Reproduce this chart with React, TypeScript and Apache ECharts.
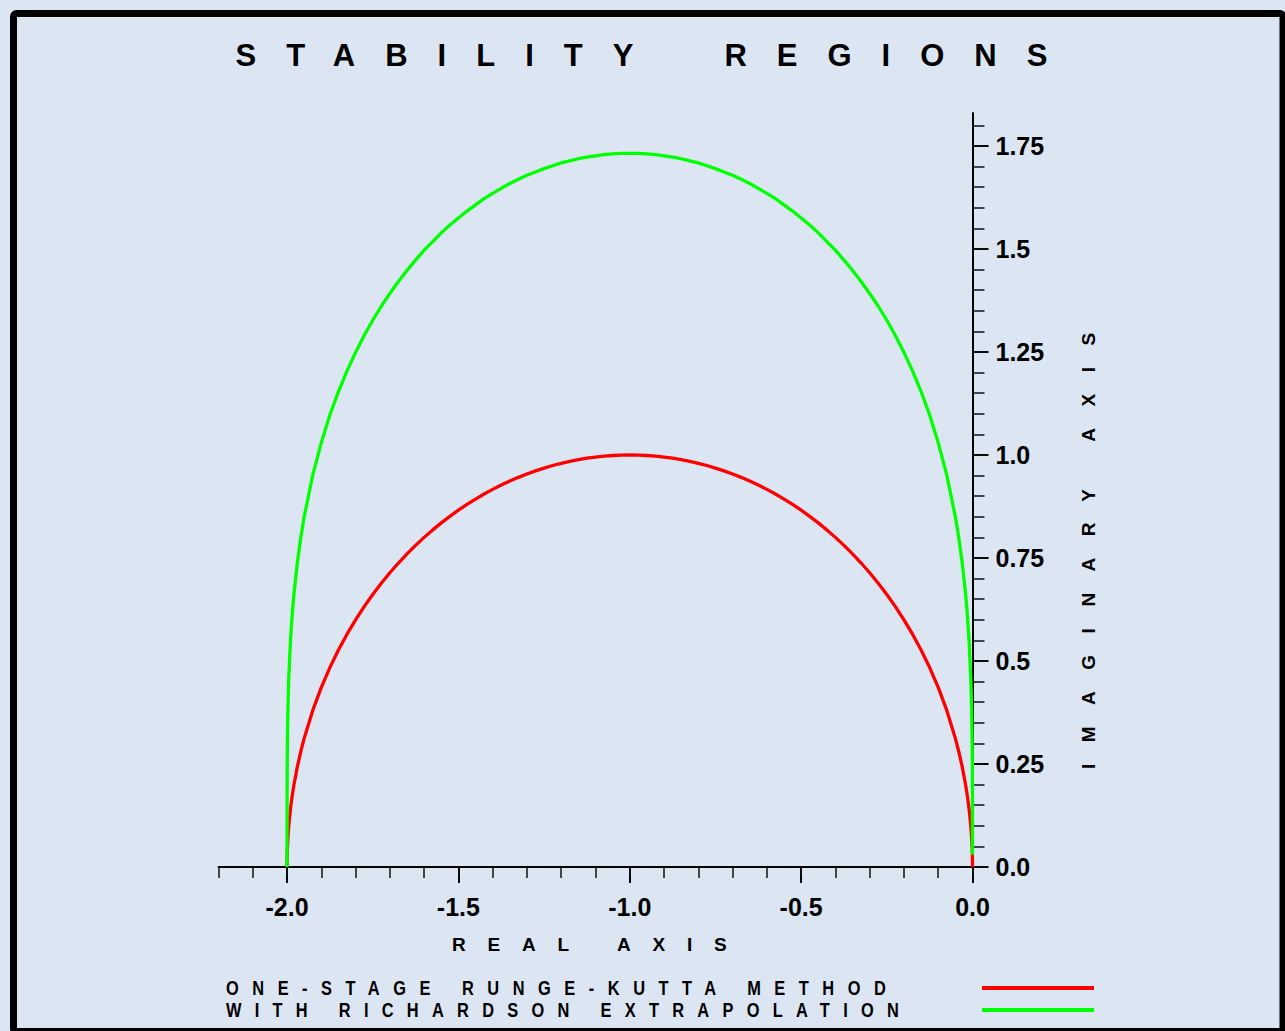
import React, { useEffect, useRef } from "react";
import * as echarts from "echarts";

// ---- data ----
const xValues = [
  -2, -1.9999, -1.9995, -1.999, -1.9975, -1.995, -1.99, -1.985, -1.98, -1.97, -1.96, -1.95,
  -1.925, -1.9, -1.875, -1.85, -1.825, -1.8, -1.775, -1.75, -1.725, -1.7, -1.675, -1.65, -1.625,
  -1.6, -1.575, -1.55, -1.525, -1.5, -1.475, -1.45, -1.425, -1.4, -1.375, -1.35, -1.325, -1.3,
  -1.275, -1.25, -1.225, -1.2, -1.175, -1.15, -1.125, -1.1, -1.075, -1.05, -1.025, -1.0,
  -0.975, -0.95, -0.925, -0.9, -0.875, -0.85, -0.825, -0.8, -0.775, -0.75, -0.725, -0.7, -0.675,
  -0.65, -0.625, -0.6, -0.575, -0.55, -0.525, -0.5, -0.475, -0.45, -0.425, -0.4, -0.375, -0.35,
  -0.325, -0.3, -0.275, -0.25, -0.225, -0.2, -0.175, -0.15, -0.125, -0.1, -0.075, -0.05,
  -0.04, -0.03, -0.02, -0.015, -0.01, -0.005, -0.0025, -0.001, -0.0005, -0.0001, 0,
];
const rungeKuttaY = [
  0, 0.0141, 0.0316, 0.0447, 0.0707, 0.0999, 0.1411, 0.1726, 0.199, 0.2431, 0.28, 0.3122,
  0.38, 0.4359, 0.4841, 0.5268, 0.5651, 0.6, 0.632, 0.6614, 0.6888, 0.7141, 0.7378, 0.7599, 0.7806,
  0.8, 0.8182, 0.8352, 0.8511, 0.866, 0.88, 0.893, 0.9052, 0.9165, 0.927, 0.9367, 0.9457, 0.9539,
  0.9614, 0.9682, 0.9744, 0.9798, 0.9846, 0.9887, 0.9922, 0.995, 0.9972, 0.9987, 0.9997, 1.0,
  0.9997, 0.9987, 0.9972, 0.995, 0.9922, 0.9887, 0.9846, 0.9798, 0.9744, 0.9682, 0.9614, 0.9539,
  0.9457, 0.9367, 0.927, 0.9165, 0.9052, 0.893, 0.88, 0.866, 0.8511, 0.8352, 0.8182, 0.8, 0.7806,
  0.7599, 0.7378, 0.7141, 0.6888, 0.6614, 0.632, 0.6, 0.5651, 0.5268, 0.4841, 0.4359, 0.38, 0.3122,
  0.28, 0.2431, 0.199, 0.1726, 0.1411, 0.0999, 0.0707, 0.0447, 0.0316, 0.0141, 0,
];
const richardsonY = [
  0, 0.169, 0.253, 0.302, 0.383, 0.458, 0.55, 0.612, 0.662, 0.738, 0.799, 0.85,
  0.951, 1.03, 1.097, 1.154, 1.204, 1.249, 1.29, 1.327, 1.361, 1.392, 1.421, 1.448, 1.473, 1.497,
  1.518, 1.539, 1.558, 1.575, 1.592, 1.607, 1.622, 1.635, 1.647, 1.659, 1.669, 1.679, 1.687, 1.695,
  1.702, 1.709, 1.714, 1.719, 1.723, 1.726, 1.729, 1.731, 1.732, 1.732,
  1.732, 1.731, 1.729, 1.726, 1.723, 1.719, 1.714, 1.709, 1.702, 1.695, 1.687, 1.679, 1.669, 1.659,
  1.647, 1.635, 1.622, 1.607, 1.592, 1.575, 1.558, 1.539, 1.518, 1.497, 1.473, 1.448, 1.421, 1.392,
  1.361, 1.327, 1.29, 1.249, 1.204, 1.154, 1.097, 1.03, 0.951, 0.85,
  0.799, 0.738, 0.662, 0.612, 0.55, 0.458, 0.383, 0.302, 0.253, 0.169, 0.03,
];
const seriesNames = ["ONE-STAGE RUNGE-KUTTA METHOD", "WITH RICHARDSON EXTRAPOLATION"];
const seriesColors = ["#ff0000", "#00ff00"];

const xMajorTicks = [-2.0, -1.5, -1.0, -0.5, 0.0];
const xTickLabels = ["-2.0", "-1.5", "-1.0", "-0.5", "0.0"];
const xMinorTicks = [
  -2.2, -2.1, -2.0, -1.9, -1.8, -1.7, -1.6, -1.5, -1.4, -1.3, -1.2, -1.1, -1.0, -0.9, -0.8, -0.7,
  -0.6, -0.5, -0.4, -0.3, -0.2, -0.1, 0.0,
];
const yMajorTicks = [0, 0.25, 0.5, 0.75, 1.0, 1.25, 1.5, 1.75];
const yTickLabels = ["0.0", "0.25", "0.5", "0.75", "1.0", "1.25", "1.5", "1.75"];
const yMinorTicks = [
  0, 0.05, 0.1, 0.15, 0.2, 0.25, 0.3, 0.35, 0.4, 0.45, 0.5, 0.55, 0.6, 0.65, 0.7, 0.75, 0.8, 0.85,
  0.9, 0.95, 1.0, 1.05, 1.1, 1.15, 1.2, 1.25, 1.3, 1.35, 1.4, 1.45, 1.5, 1.55, 1.6, 1.65, 1.7, 1.75,
  1.8,
];
const xRange = [-2.2, 0];
const yRange = [0, 1.83];

const titleText = "STABILITY REGIONS";
const xAxisName = "REAL AXIS";
const yAxisName = "IMAGINARY AXIS";

const BG = "#dce6f2";
const FONT = "'Liberation Sans', Arial, Helvetica, sans-serif";

// letter / word spacing applied to the rendered svg texts
const spacing: Record<string, [number, number]> = {
  [titleText]: [30, 23],
  [xAxisName]: [21.8, 0],
  [yAxisName]: [21.5, 0],
  [seriesNames[0]]: [16.5, 0],
  [seriesNames[1]]: [16.2, 0],
};

const labelFor = (ticks: number[], labels: string[]) => (v: number) => {
  const i = ticks.findIndex((t) => Math.abs(t - v) < 1e-9);
  return i >= 0 ? labels[i] : "";
};

export default function App() {
  const ref = useRef<HTMLDivElement>(null);

  useEffect(() => {
    if (!ref.current) return;
    const chart = echarts.init(ref.current, undefined, { renderer: "svg" });

    const gridLeft = 218.5;
    const gridTop = 113;
    const gridW = 754;
    const gridH = 754;

    const option: any = {
      animation: false,
      backgroundColor: BG,
      grid: { left: gridLeft, top: gridTop, width: gridW, height: gridH, containLabel: false },
      xAxis: [
        {
          type: "value",
          min: xRange[0],
          max: xRange[1],
          position: "bottom",
          axisLine: { show: true, onZero: false, lineStyle: { color: "#000", width: 2 } },
          axisTick: {
            show: true,
            customValues: xMajorTicks,
            length: 16,
            lineStyle: { color: "#000", width: 2 },
          },
          axisLabel: {
            show: true,
            customValues: xMajorTicks,
            formatter: labelFor(xMajorTicks, xTickLabels),
            margin: 27,
            color: "#000",
            fontFamily: FONT,
            fontWeight: "bold",
            fontSize: 25,
          },
          splitLine: { show: false },
        },
        {
          type: "value",
          min: xRange[0],
          max: xRange[1],
          position: "bottom",
          axisLine: { show: false, onZero: false },
          axisTick: {
            show: true,
            customValues: xMinorTicks,
            length: 11,
            lineStyle: { color: "#111", width: 1.5 },
          },
          axisLabel: { show: false },
          splitLine: { show: false },
        },
      ],
      yAxis: [
        {
          type: "value",
          min: yRange[0],
          max: yRange[1],
          position: "right",
          axisLine: { show: true, onZero: false, lineStyle: { color: "#000", width: 2 } },
          axisTick: {
            show: true,
            customValues: yMajorTicks,
            length: 16,
            lineStyle: { color: "#000", width: 2 },
          },
          axisLabel: {
            show: true,
            customValues: yMajorTicks,
            formatter: labelFor(yMajorTicks, yTickLabels),
            margin: 23,
            color: "#000",
            fontFamily: FONT,
            fontWeight: "bold",
            fontSize: 25,
          },
          splitLine: { show: false },
        },
        {
          type: "value",
          min: yRange[0],
          max: yRange[1],
          position: "right",
          axisLine: { show: false, onZero: false },
          axisTick: {
            show: true,
            customValues: yMinorTicks,
            length: 12,
            lineStyle: { color: "#111", width: 1.5 },
          },
          axisLabel: { show: false },
          splitLine: { show: false },
        },
      ],
      series: [
        {
          name: seriesNames[0],
          type: "line",
          xAxisIndex: 0,
          yAxisIndex: 0,
          data: xValues.map((x, i) => [x, rungeKuttaY[i]]),
          showSymbol: false,
          symbol: "none",
          clip: false,
          lineStyle: { color: seriesColors[0], width: 3.3, join: "round", cap: "butt" },
          itemStyle: { color: seriesColors[0] },
          z: 3,
        },
        {
          name: seriesNames[1],
          type: "line",
          xAxisIndex: 0,
          yAxisIndex: 0,
          data: xValues.map((x, i) => [x, richardsonY[i]]),
          showSymbol: false,
          symbol: "none",
          clip: false,
          lineStyle: { color: seriesColors[1], width: 3.3, join: "round", cap: "butt" },
          itemStyle: { color: seriesColors[1] },
          z: 4,
        },
      ],
      graphic: [
        {
          type: "rect",
          shape: { x: 13.5, y: 13.5, width: 1269.5, height: 1018, r: 3 },
          style: { fill: "none", stroke: "#000", lineWidth: 7 },
          z: 10,
        },
        {
          type: "text",
          x: 235.5,
          y: 55,
          style: {
            text: titleText,
            fill: "#000",
            fontFamily: FONT,
            fontWeight: "bold",
            fontSize: 31,
            align: "left",
            verticalAlign: "middle",
            textAlign: "left",
            textVerticalAlign: "middle",
          },
        },
        {
          type: "text",
          x: 452,
          y: 944.5,
          style: {
            text: xAxisName,
            fill: "#000",
            fontFamily: FONT,
            fontWeight: "bold",
            fontSize: 19,
            align: "left",
            verticalAlign: "middle",
            textAlign: "left",
            textVerticalAlign: "middle",
          },
        },
        {
          type: "text",
          x: 1088,
          y: 769,
          rotation: Math.PI / 2,
          style: {
            text: yAxisName,
            fill: "#000",
            fontFamily: FONT,
            fontWeight: "bold",
            fontSize: 19,
            align: "left",
            verticalAlign: "middle",
            textAlign: "left",
            textVerticalAlign: "middle",
          },
        },
        ...seriesNames.map((name, i) => ({
          type: "text",
          x: 226,
          y: 988 + i * 22,
          scaleX: 0.82,
          style: {
            text: name,
            fill: "#000",
            fontFamily: FONT,
            fontWeight: "bold",
            fontSize: 20,
            align: "left",
            verticalAlign: "middle",
            textAlign: "left",
            textVerticalAlign: "middle",
          },
        })),
        ...seriesNames.map((_, i) => ({
          type: "line",
          shape: { x1: 982, y1: 988 + i * 22, x2: 1094, y2: 988 + i * 22 },
          style: { stroke: seriesColors[i], lineWidth: 4 },
        })),
      ],
    };

    chart.setOption(option);

    const applySpacing = () => {
      const el = ref.current;
      if (!el) return;
      el.querySelectorAll("text").forEach((t) => {
        const s = spacing[(t.textContent || "").trim()];
        if (s) {
          t.setAttribute("letter-spacing", String(s[0]));
          if (s[1]) t.setAttribute("word-spacing", String(s[1]));
        }
      });
    };
    applySpacing();
    chart.on("finished", applySpacing);

    return () => {
      chart.dispose();
    };
  }, []);

  return (
    <div
      style={{
        position: "fixed",
        left: 0,
        top: 0,
        width: 1285,
        height: 1031,
        background: BG,
      }}
    >
      <div ref={ref} style={{ width: 1285, height: 1031 }} />
    </div>
  );
}
